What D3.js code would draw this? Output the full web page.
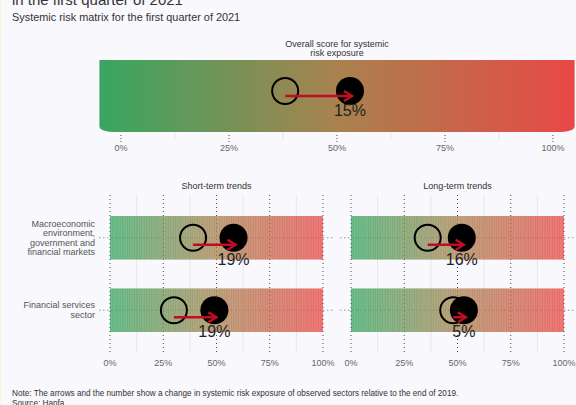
<!DOCTYPE html>
<html>
<head>
<meta charset="utf-8">
<script src="https://cdn.jsdelivr.net/npm/d3@7"></script>
<style>
  html, body { margin: 0; padding: 0; background: #f8f8fd; }
  svg { display: block; font-family: "Liberation Sans", Arial, sans-serif; }
</style>
</head>
<body>
<svg id="chart" width="576" height="405"></svg>
<script>
// Systemic risk scores (percent of scale): end of 2019 vs Q1 2021
const overallPrev = 38;
const overallNow = 53;

const categories = ["Macroeconomic environment, government and financial markets", "Financial services sector"];
const categoryLines = [["Macroeconomic", "environment,", "government and", "financial markets"], ["Financial services", "sector"]];

const shortPrev = [39, 30];
const shortNow = [58, 49];
const longPrev = [36, 48];
const longNow = [52, 53];

const tickValues = [0, 25, 50, 75, 100];
const minorTicks = [12.5, 37.5, 62.5, 87.5];
const tickFormat = d => d + "%";

const ARROW = "#c00d24";
// green -> brown -> red risk scale
const colorAt = d3.scaleLinear().domain([0, 0.5, 1])
  .range(["#38a661", "#a8824f", "#e84846"]).interpolate(d3.interpolateRgb);

const svg = d3.select("#chart");
const defs = svg.append("defs");

function addGradient(id, x1, x2) {
  const grad = defs.append("linearGradient").attr("id", id)
    .attr("gradientUnits", "userSpaceOnUse")
    .attr("x1", x1).attr("x2", x2).attr("y1", 0).attr("y2", 0);
  d3.range(0, 1.0001, 0.1).forEach(t => grad.append("stop").attr("offset", t).attr("stop-color", colorAt(t)));
}

// faint left border of the page
svg.append("rect").attr("x", 0).attr("y", 0).attr("width", 1).attr("height", 405).attr("fill", "#fbf3d6");

// headings
svg.append("text").attr("x", 12).attr("y", 5).attr("font-size", 15).attr("fill", "#333")
  .text("in the first quarter of 2021");
svg.append("text").attr("x", 12).attr("y", 21).attr("font-size", 10.9).attr("fill", "#333")
  .text("Systemic risk matrix for the first quarter of 2021");

// arrow + circles + change label
function drawMove(g, x, prev, now, cy, arrowDy, labelDy) {
  const r = 13;
  g.append("circle").attr("cx", x(prev)).attr("cy", cy).attr("r", r)
    .attr("fill", "none").attr("stroke", "#000").attr("stroke-width", 2);
  g.append("circle").attr("cx", x(now)).attr("cy", cy).attr("r", r + 1).attr("fill", "#000");
  const x0 = x(prev), x1 = x(now) + 2, ay = cy + arrowDy;
  g.append("line").attr("x1", x0).attr("x2", x1 - 2).attr("y1", ay).attr("y2", ay)
    .attr("stroke", ARROW).attr("stroke-width", 2.5);
  g.append("path").attr("d", `M${x1 - 8},${ay - 5} L${x1},${ay} L${x1 - 8},${ay + 5}`)
    .attr("fill", "none").attr("stroke", ARROW).attr("stroke-width", 2.5)
    .attr("stroke-linejoin", "miter");
  g.append("text").attr("x", x(now)).attr("y", cy + labelDy).attr("text-anchor", "middle")
    .attr("font-size", 16).attr("fill", "#222").text(Math.round(now - prev) + "%");
}

// ---------- overall score ----------
{
  const x = d3.scaleLinear().domain([0, 100]).range([121, 553]);
  const top = 60, bottom = 132;
  const g = svg.append("g");

  g.append("text").attr("x", x(50)).attr("y", 47).attr("text-anchor", "middle")
    .attr("font-size", 9).attr("fill", "#333").text("Overall score for systemic");
  g.append("text").attr("x", x(50)).attr("y", 56).attr("text-anchor", "middle")
    .attr("font-size", 9).attr("fill", "#333").text("risk exposure");

  g.selectAll("line.minor").data(minorTicks).join("line").attr("class", "minor")
    .attr("x1", d => x(d)).attr("x2", d => x(d)).attr("y1", top).attr("y2", bottom + 8)
    .attr("stroke", "#e6e6ee").attr("stroke-width", 1);

  addGradient("overallGrad", x(-5), x(105));

  const xl = x(-5), xr = x(105), rx = 18, ry = 6;
  g.append("path")
    .attr("d", `M${xl},${top} L${xr},${top} L${xr},${bottom - ry} Q${xr},${bottom} ${xr - rx},${bottom} L${xl + rx},${bottom} Q${xl},${bottom} ${xl},${bottom - ry} Z`)
    .attr("fill", "url(#overallGrad)");

  g.selectAll("line.major").data(tickValues).join("line").attr("class", "major")
    .attr("x1", d => x(d)).attr("x2", d => x(d)).attr("y1", bottom + 3).attr("y2", bottom + 10)
    .attr("stroke", "#444").attr("stroke-dasharray", "1,2");

  g.selectAll("text.tick").data(tickValues).join("text").attr("class", "tick")
    .attr("x", d => x(d)).attr("y", 151).attr("text-anchor", "middle")
    .attr("font-size", 9).attr("fill", "#666").text(tickFormat);

  drawMove(g, x, overallPrev, overallNow, 91, 5, 25);
}

// ---------- trend panels ----------
function panel(id, title, x0, prev, now, showLabels) {
  const x = d3.scaleLinear().domain([0, 100]).range([x0, x0 + 213]);
  const y = d3.scaleBand().domain(categories).range([195, 353]).paddingInner(0.4).paddingOuter(0.29);
  const g = svg.append("g");

  g.append("text").attr("x", x(50)).attr("y", 189).attr("text-anchor", "middle")
    .attr("font-size", 9).attr("fill", "#333").text(title);

  g.selectAll("line.minor").data(minorTicks).join("line").attr("class", "minor")
    .attr("x1", d => x(d)).attr("x2", d => x(d)).attr("y1", 195).attr("y2", 353)
    .attr("stroke", "#e6e6ee").attr("stroke-width", 1);

  g.selectAll("line.hgrid").data(categories).join("line").attr("class", "hgrid")
    .attr("x1", x(-5)).attr("x2", x(105) + 1)
    .attr("y1", d => y(d) + y.bandwidth() / 2).attr("y2", d => y(d) + y.bandwidth() / 2)
    .attr("stroke", "#666").attr("stroke-dasharray", "1,3");

  g.selectAll("line.major").data(tickValues).join("line").attr("class", "major")
    .attr("x1", d => x(d)).attr("x2", d => x(d)).attr("y1", 195).attr("y2", 353)
    .attr("stroke", "#444").attr("stroke-dasharray", "1,3");

  // gradient bars: soft base with fine stripes over it
  addGradient(id, x(0), x(100));
  const steps = d3.range(0, 100, 0.8);
  categories.forEach(c => {
    g.append("rect").attr("x", x(0)).attr("y", y(c))
      .attr("width", x(100) - x(0)).attr("height", y.bandwidth())
      .attr("fill", `url(#${id})`).attr("fill-opacity", 0.62);
    g.append("g").selectAll("rect").data(steps).join("rect")
      .attr("x", d => x(d)).attr("y", y(c))
      .attr("width", (x(0.8) - x(0)) * 0.7).attr("height", y.bandwidth())
      .attr("fill", d => colorAt(d / 100)).attr("fill-opacity", 0.5);
  });

  g.selectAll("text.tick").data(tickValues).join("text").attr("class", "tick")
    .attr("x", d => x(d)).attr("y", 366).attr("text-anchor", "middle")
    .attr("font-size", 9).attr("fill", "#666").text(tickFormat);

  if (showLabels) {
    categories.forEach((c, i) => {
      const lines = categoryLines[i];
      const cy = y(c) + y.bandwidth() / 2;
      const t = g.append("text").attr("text-anchor", "end").attr("font-size", 9).attr("fill", "#555");
      lines.forEach((ln, k) => {
        t.append("tspan").attr("x", 95)
          .attr("y", cy + 3 + (k - (lines.length - 1) / 2) * 9.5).text(ln);
      });
    });
  }

  categories.forEach((c, i) => {
    const cy = y(c) + y.bandwidth() / 2;
    drawMove(g, x, prev[i], now[i], cy, 7, 27);
  });
}

panel("shortGrad", "Short-term trends", 110, shortPrev, shortNow, true);
panel("longGrad", "Long-term trends", 351, longPrev, longNow, false);

// footnote
svg.append("text").attr("x", 12).attr("y", 396).attr("font-size", 8.2).attr("fill", "#333")
  .text("Note: The arrows and the number show a change in systemic risk exposure of observed sectors relative to the end of 2019.");
svg.append("text").attr("x", 12).attr("y", 406).attr("font-size", 8.2).attr("fill", "#333")
  .text("Source: Hanfa");
</script>
</body>
</html>
